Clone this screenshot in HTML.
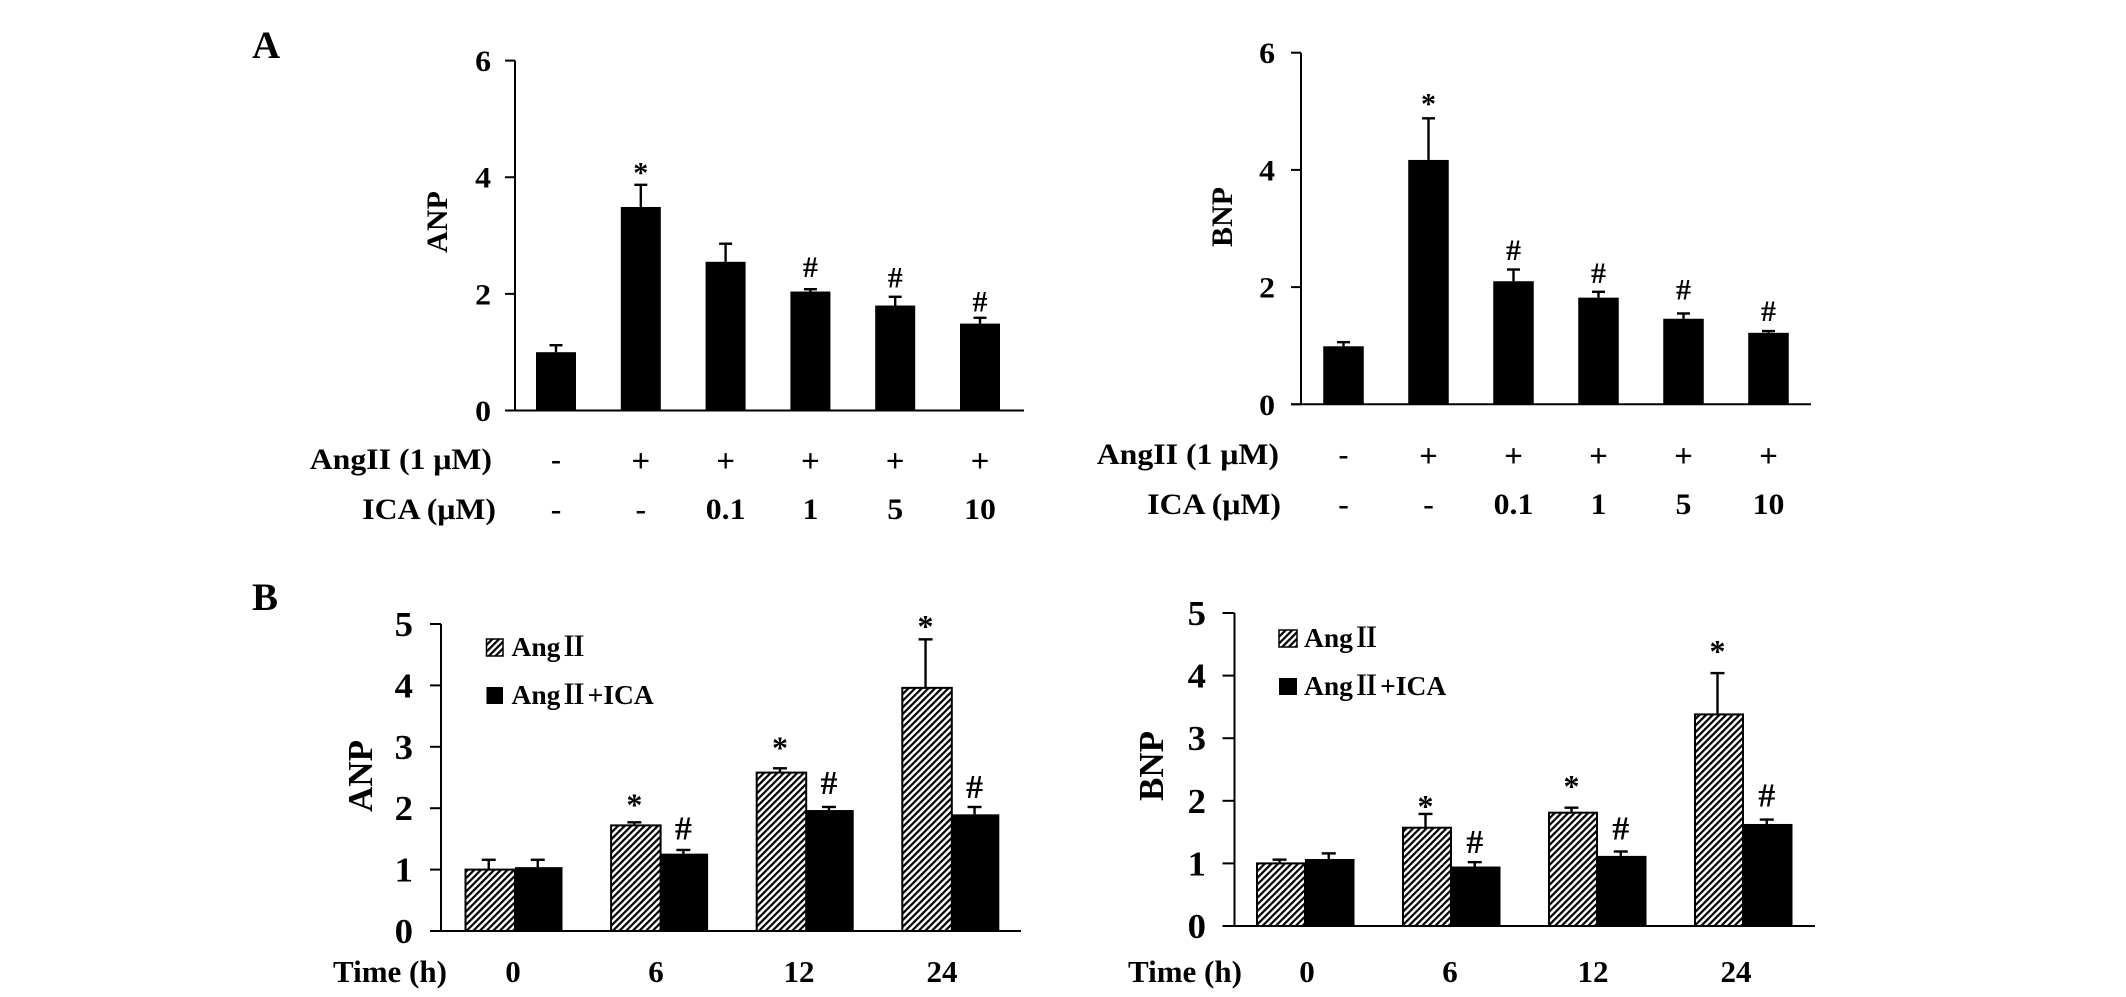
<!DOCTYPE html>
<html lang="en">
<head>
<meta charset="utf-8">
<title>ANP and BNP expression charts</title>
<style>
  html, body { margin: 0; padding: 0; background: #fff; }
  svg { display: block; }
  text { font-family: "Liberation Serif", "Noto Serif CJK SC", serif; font-weight: bold; fill: #000; }
  .legend-text { word-spacing: -7px; }
</style>
</head>
<body>
<svg id="figure" width="2126" height="997" viewBox="0 0 2126 997" xmlns="http://www.w3.org/2000/svg">
  <defs>
    <pattern id="hatch" patternUnits="userSpaceOnUse" width="4.7" height="4.7" patternTransform="rotate(45)">
      <rect width="4.7" height="4.7" fill="#fff"></rect>
      <rect x="0" y="0" width="2.2" height="4.7" fill="#000"></rect>
    </pattern>
  </defs>
  <text x="252" y="58" font-size="39">A</text>
  <text x="252" y="610" font-size="39">B</text>
</svg>
<script>
// ---- Panel A data ----
const doseTicks = [0, 2, 4, 6];
const angRowLabels = ['-', '+', '+', '+', '+', '+'];
const icaRowLabels = ['-', '-', '0.1', '1', '5', '10'];

const anpDoseValues = [1.0, 3.49, 2.55, 2.04, 1.80, 1.49];
const anpDoseErrorTops = [1.12, 3.87, 2.86, 2.08, 1.95, 1.59];
const anpDoseMarks = ['', '*', '', '#', '#', '#'];
const anpDoseMarkLevels = [0, 3.91, 0, 2.29, 2.11, 1.70];

const bnpDoseValues = [0.99, 4.17, 2.10, 1.82, 1.46, 1.22];
const bnpDoseErrorTops = [1.06, 4.88, 2.30, 1.92, 1.55, 1.25];
const bnpDoseMarks = ['', '*', '#', '#', '#', '#'];
const bnpDoseMarkLevels = [0, 4.96, 2.46, 2.07, 1.79, 1.42];

// ---- Panel B data ----
const timeTicks = [0, 1, 2, 3, 4, 5];
const timeLabels = ['0', '6', '12', '24'];

const anpAngValues = [1.0, 1.72, 2.58, 3.96];
const anpAngErrorTops = [1.16, 1.77, 2.65, 4.75];
const anpAngMarks = ['', '*', '*', '*'];
const anpAngMarkLevels = [0, 1.88, 2.81, 4.79];
const anpIcaValues = [1.04, 1.26, 1.97, 1.90];
const anpIcaErrorTops = [1.16, 1.32, 2.02, 2.02];
const anpIcaMarks = ['', '#', '#', '#'];
const anpIcaMarkLevels = [0, 1.49, 2.23, 2.17];

const bnpAngValues = [1.0, 1.57, 1.81, 3.38];
const bnpAngErrorTops = [1.06, 1.79, 1.89, 4.04];
const bnpAngMarks = ['', '*', '*', '*'];
const bnpAngMarkLevels = [0, 1.74, 2.06, 4.22];
const bnpIcaValues = [1.07, 0.95, 1.12, 1.63];
const bnpIcaErrorTops = [1.16, 1.02, 1.19, 1.70];
const bnpIcaMarks = ['', '#', '#', '#'];
const bnpIcaMarkLevels = [0, 1.17, 1.38, 1.91];

const legendLabels = ['Ang Ⅱ', 'Ang Ⅱ +ICA'];

// ---- drawing ----
const svg = document.getElementById('figure');
const NS = 'http://www.w3.org/2000/svg';

function shape(tag, attrs, parent) {
  const el = document.createElementNS(NS, tag);
  for (const k in attrs) el.setAttribute(k, attrs[k]);
  parent.appendChild(el);
  return el;
}
function label(str, x, y, size, anchor, stretch, parent) {
  const el = shape('text', {
    transform: 'translate(' + x + ',' + y + ') scale(' + stretch + ',1)',
    'font-size': size,
    'text-anchor': anchor
  }, parent);
  el.textContent = str;
  return el;
}
function vertLabel(str, x, y, size, parent) {
  const el = shape('text', {
    transform: 'translate(' + x + ',' + y + ') rotate(-90)',
    'font-size': size,
    'text-anchor': 'middle'
  }, parent);
  el.textContent = str;
  return el;
}
function linearY(g) {
  return v => g.y0 - v * (g.y0 - g.yTop) / g.max;
}
function drawAxes(g, ticks, y, parent) {
  const yAxis = shape('line', { x1: g.axisX, x2: g.axisX, y1: g.yTop, y2: g.y0, stroke: '#000', 'stroke-width': 2 }, parent);
  
  
  const xAxis = shape('line', { x1: g.axisX - g.tick, x2: g.axisEnd, y1: g.y0, y2: g.y0, stroke: '#000', 'stroke-width': 2 }, parent);
  
  
  ticks.forEach(v => {
    const tk = shape('line', { x1: g.axisX - g.tick, x2: g.axisX, y1: y(v), y2: y(v), stroke: '#000', 'stroke-width': 2 }, parent);
    
    
    const tl = label(String(v), g.tickLabelX, y(v) + g.tickDrop, g.tickSize, 'end', g.tickStretch, parent);
    
    
  });
}
function drawError(cx, top, errTop, capW, parent) {
  const stem = shape('line', { x1: cx, x2: cx, y1: top, y2: errTop, stroke: '#000', 'stroke-width': 2.4 }, parent);
  
  
  const cap = shape('line', { x1: cx - capW / 2, x2: cx + capW / 2, y1: errTop, y2: errTop, stroke: '#000', 'stroke-width': 2.4 }, parent);
  
  
}
function drawMark(str, cx, yy, size, parent) {
  if (!str) return;
  const m = label(str, cx, yy, size, 'middle', 1, parent);
  
  
}

function drawDosePanel(g, values, errs, marks, levels) {
  const root = shape('g', {}, svg);
  
  
  const y = linearY(g);
  const x = i => g.x0 + g.step * i;
  values.forEach((v, i) => {
    drawError(x(i), y(v), y(errs[i]), 13, root);
    const b = shape('rect', { x: x(i) - g.barW / 2, y: y(v), width: g.barW, height: g.y0 - y(v), fill: '#000' }, root);
    
    
    drawMark(marks[i], x(i), y(levels[i]), 30, root);
    const isPlus = angRowLabels[i] === '+';
    const a = label(angRowLabels[i], x(i), g.angY + (isPlus ? 3 : 0), isPlus ? 33 : 30, 'middle', 1, root);
    
    
    const c = label(icaRowLabels[i], x(i), g.icaY, 30, 'middle', 1.06, root);
    
    
  });
  drawAxes(g, doseTicks, y, root);
  const t1 = label('AngII (1 μM)', g.angEnd, g.angY, 30, 'end', 1.06, root);
  
  
  const t2 = label('ICA (μM)', g.icaEnd, g.icaY, 30, 'end', 1.06, root);
  
  
  const yt = vertLabel(g.title, g.titleX, g.titleY, 30, root);
  
  
}

function drawTimePanel(g, angV, angE, angM, angL, icaV, icaE, icaM, icaL) {
  const root = shape('g', {}, svg);
  
  
  const y = linearY(g);
  const x = i => g.x0 + g.step * i;
  timeLabels.forEach((lab, i) => {
    const hx = x(i) - g.hatchW;
    const bx = x(i);
    drawError(hx + g.hatchW / 2 - 1, y(angV[i]), y(angE[i]), 14, root);
    drawError(bx + g.blackW / 2 - 1, y(icaV[i]), y(icaE[i]), 14, root);
    const hb = shape('rect', { x: hx + 1, y: y(angV[i]), width: g.hatchW - 1, height: g.y0 - y(angV[i]), fill: 'url(#hatch)', stroke: '#000', 'stroke-width': 2 }, root);
    
    
    const bb = shape('rect', { x: bx, y: y(icaV[i]), width: g.blackW, height: g.y0 - y(icaV[i]), fill: '#000' }, root);
    
    
    drawMark(angM[i], hx + g.hatchW / 2 - 1, y(angL[i]), 32, root);
    drawMark(icaM[i], bx + g.blackW / 2 - 1, y(icaL[i]), 34, root);
    const tl = label(lab, g.timeLabelX0 + g.timeLabelStep * i, g.timeY, 31, 'middle', 1, root);
    
    
  });
  drawAxes(g, timeTicks, y, root);
  const tt = label('Time (h)', g.timeTitleX, g.timeY, 31, 'start', 1, root);
  
  
  const yt = vertLabel(g.title, g.titleX, g.titleY, 35, root);
  
  

  const sw1 = shape('rect', { x: g.legendX, y: g.legendY1 - g.boxH, width: g.boxW, height: g.boxH, fill: 'url(#hatch)', stroke: '#000', 'stroke-width': 1.5 }, root);
  
  
  const sw2 = shape('rect', { x: g.legendX, y: g.legendY2 - g.boxH, width: g.boxW, height: g.boxH, fill: '#000' }, root);
  
  
  const l1 = label(legendLabels[0], g.legendTextX, g.legendY1, 27.5, 'start', 1, root);
  l1.setAttribute('class', 'legend-text');
  
  
  const l2 = label(legendLabels[1], g.legendTextX, g.legendY2, 27.5, 'start', 1, root);
  l2.setAttribute('class', 'legend-text');
  
  
}

drawDosePanel({
  name: 'chart-anp-dose', title: 'ANP', max: 6, axisX: 515, axisEnd: 1024, y0: 410.5, yTop: 60.6, tick: 10,
  tickLabelX: 491, tickSize: 30, tickStretch: 1.06, tickDrop: 10.5, x0: 556, step: 84.8, barW: 40, angY: 469, icaY: 519,
  angEnd: 492, icaEnd: 496, titleX: 447, titleY: 222
}, anpDoseValues, anpDoseErrorTops, anpDoseMarks, anpDoseMarkLevels);

drawDosePanel({
  name: 'chart-bnp-dose', title: 'BNP', max: 6, axisX: 1301, axisEnd: 1811, y0: 404.3, yTop: 52.7, tick: 10,
  tickLabelX: 1275, tickSize: 30, tickStretch: 1.06, tickDrop: 10.5, x0: 1343.5, step: 85, barW: 40.5, angY: 464, icaY: 514,
  angEnd: 1279, icaEnd: 1281, titleX: 1232, titleY: 217
}, bnpDoseValues, bnpDoseErrorTops, bnpDoseMarks, bnpDoseMarkLevels);

drawTimePanel({
  name: 'chart-anp-time', title: 'ANP', max: 5, axisX: 441, axisEnd: 1021, y0: 931, yTop: 624, tick: 11,
  tickLabelX: 413, tickSize: 35, tickStretch: 1.05, tickDrop: 12, x0: 515, step: 145.6, hatchW: 50.5, blackW: 47.5, timeY: 982, timeLabelX0: 513, timeLabelStep: 143,
  timeTitleX: 333, titleX: 372, titleY: 776, legendX: 486.5, legendY1: 656, legendY2: 704, boxW: 16.5, boxH: 17,
  legendTextX: 511.5
}, anpAngValues, anpAngErrorTops, anpAngMarks, anpAngMarkLevels, anpIcaValues, anpIcaErrorTops, anpIcaMarks, anpIcaMarkLevels);

drawTimePanel({
  name: 'chart-bnp-time', title: 'BNP', max: 5, axisX: 1234.5, axisEnd: 1815, y0: 926, yTop: 613, tick: 12,
  tickLabelX: 1206, tickSize: 35, tickStretch: 1.05, tickDrop: 12, x0: 1305, step: 146, hatchW: 49, blackW: 49.5, timeY: 982, timeLabelX0: 1307, timeLabelStep: 143,
  timeTitleX: 1128, titleX: 1163, titleY: 766, legendX: 1279, legendY1: 647, legendY2: 695, boxW: 18, boxH: 17,
  legendTextX: 1304
}, bnpAngValues, bnpAngErrorTops, bnpAngMarks, bnpAngMarkLevels, bnpIcaValues, bnpIcaErrorTops, bnpIcaMarks, bnpIcaMarkLevels);
</script>
</body>
</html>
